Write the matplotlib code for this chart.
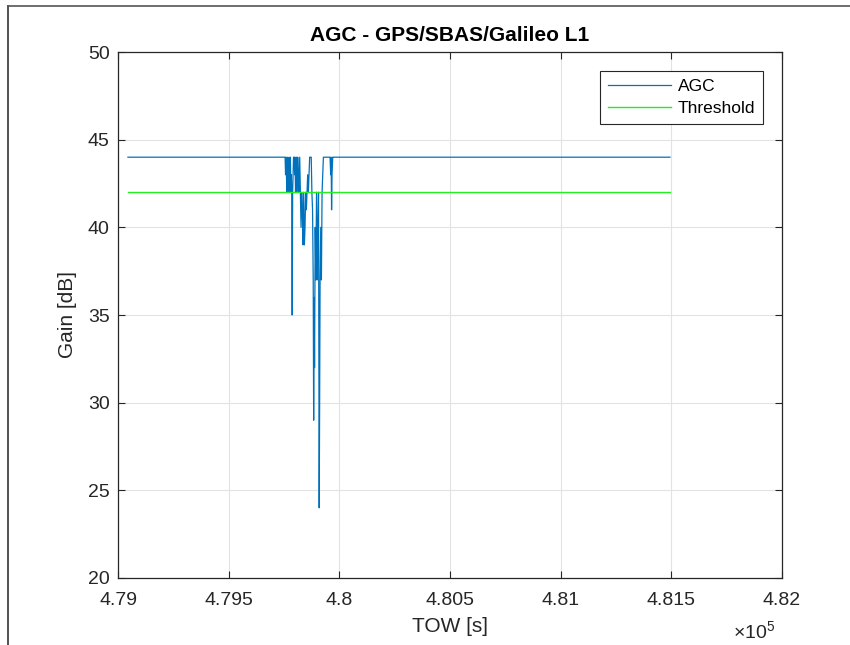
import matplotlib
matplotlib.use("Agg")
import matplotlib.pyplot as plt
from matplotlib.lines import Line2D
from matplotlib.ticker import FixedLocator, FuncFormatter

# AGC gain [dB] vs time of week [s]
agc_tow = [
    479045, 479755, 479757, 479759, 479761, 479763, 479765, 479767, 479769,
    479771, 479773, 479775, 479777, 479779, 479781, 479783, 479785, 479787,
    479789, 479791, 479793, 479796, 479798, 479800, 479802, 479804, 479806,
    479808, 479810, 479812, 479815, 479818, 479821, 479824, 479827, 479830,
    479833, 479836, 479839, 479842, 479845, 479848, 479851, 479854, 479857,
    479860, 479863, 479866, 479869, 479873, 479876, 479879, 479882, 479884,
    479886, 479888, 479891, 479894, 479897, 479900, 479903, 479906, 479909,
    479911, 479913, 479916, 479919, 479922, 479925, 479928, 479958, 479961,
    479963, 479965, 479967, 479970, 479973, 481494,
]
agc_gain = [
    44, 44, 43, 44, 43, 42, 44, 43, 42,
    43, 44, 42, 43, 44, 42, 43, 42, 35,
    42, 43, 44, 44, 43, 44, 42, 43, 44,
    42, 43, 44, 43, 42, 44, 42, 40, 42,
    41, 39, 42, 39, 40, 42, 41, 42, 43,
    42, 43, 44, 44, 44, 42, 41, 37, 29,
    36, 32, 40, 37, 42, 37, 40, 42, 24,
    30, 37, 40, 37, 42, 43, 44, 44, 43,
    44, 41, 43, 44, 44, 44,
]

threshold_tow = [479045, 481494]
threshold_gain = [42, 42]

xticks = [479000, 479500, 480000, 480500, 481000, 481500, 482000]
yticks = [20, 25, 30, 35, 40, 45, 50]

plt.rcParams["font.family"] = ["Liberation Sans", "DejaVu Sans"]
plt.rcParams["mathtext.fontset"] = "custom"
plt.rcParams["mathtext.rm"] = "Liberation Sans"

fig = plt.figure(figsize=(8.5, 6.45), dpi=100)
ax = fig.add_axes([118 / 850, 67 / 645, 664 / 850, 526 / 645])

ax.plot(agc_tow, agc_gain, color="#0072BD", lw=0.9, label="AGC")
ax.plot(threshold_tow, threshold_gain, color="#22EE22", lw=1.0, label="Threshold")

ax.set_xlim(479000, 482000)
ax.set_ylim(20, 50)
ax.xaxis.set_major_locator(FixedLocator(xticks))
ax.yaxis.set_major_locator(FixedLocator(yticks))
ax.xaxis.set_major_formatter(FuncFormatter(lambda v, p: "%g" % (v / 1e5)))
ax.grid(True, color="#e3e3e3", lw=0.8)
ax.set_axisbelow(True)

ax.tick_params(direction="in", length=5, width=0.8, colors="#262626",
               labelsize=14, top=True, right=True)
ax.tick_params(axis="x", pad=10)
ax.tick_params(axis="y", pad=6)
for s in ax.spines.values():
    s.set_color("#262626")
    s.set_linewidth(0.9)

ax.set_title("AGC - GPS/SBAS/Galileo L1", fontsize=15, fontweight="bold",
             color="black", pad=8)
ax.set_xlabel("TOW [s]", fontsize=15, color="#262626", labelpad=6)
ax.set_ylabel("Gain [dB]", fontsize=15, color="#262626", labelpad=8)
ax.text(0.99, -0.124, r"$\times10^{5}$", transform=ax.transAxes, ha="right",
        va="bottom", fontsize=14, color="#262626")

leg = ax.legend(loc="upper right", fontsize=12.5, fancybox=False, framealpha=1,
                edgecolor="#262626", handlelength=3.6, borderaxespad=1.1,
                borderpad=0.45, labelspacing=0.4, handletextpad=0.4)
leg.get_frame().set_linewidth(0.8)

# screenshot border on the left and top edges
fig.add_artist(Line2D([8 / 850, 8 / 850], [0, 1 - 6 / 645], color="#333333", lw=1.2))
fig.add_artist(Line2D([8 / 850, 1], [1 - 6 / 645, 1 - 6 / 645], color="#555555", lw=1.2))

fig.savefig("out.png", dpi=100)
